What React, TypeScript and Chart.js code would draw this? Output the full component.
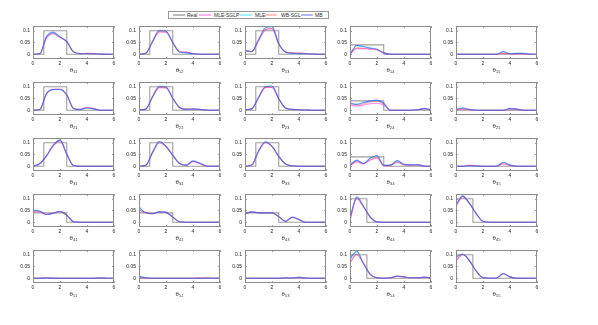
import React, { useEffect, useRef } from 'react';
import { Chart, registerables } from 'chart.js';
Chart.register(...registerables);

// grid of x positions where the estimated densities are read
const XS = [0, 0.5, 1, 1.5, 2, 2.5, 3, 3.5, 4, 4.5, 5, 5.5, 6];
const X_TICKS = [0, 2, 4, 6];
const Y_TICKS = [0, 0.05, 0.1];

const SERIES_NAMES = ['MLE-SGLP', 'MLE', 'WB-SGL', 'MB'];
const SERIES_COLORS = ['rgba(255,40,230,0.5)', 'rgba(0,215,255,0.5)', 'rgba(255,70,70,0.45)', 'rgba(50,70,255,0.55)'];
const REAL_COLOR = 'rgba(125,125,125,0.75)';

const PARAM_LABELS = [
  'θ₁₁', 'θ₁₂', 'θ₁₃', 'θ₁₄', 'θ₁₅',
  'θ₂₁', 'θ₂₂', 'θ₂₃', 'θ₂₄', 'θ₂₅',
  'θ₃₁', 'θ₃₂', 'θ₃₃', 'θ₃₄', 'θ₃₅',
  'θ₄₁', 'θ₄₂', 'θ₄₃', 'θ₄₄', 'θ₄₅',
  'θ₅₁', 'θ₅₂', 'θ₅₃', 'θ₅₄', 'θ₅₅',
];

// true densities (step functions)
const REAL_WIDE_X = [0, 0.8, 0.8, 2.5, 2.5, 6];
const REAL_WIDE_Y = [0, 0, 0.1, 0.1, 0, 0];
const REAL_LOW_X = [0, 2.5, 2.5, 6];
const REAL_LOW_Y = [0.04, 0.04, 0, 0];
const REAL_NARROW_X = [0, 1.25, 1.25, 6];
const REAL_NARROW_Y = [0.1, 0.1, 0, 0];
const REAL_ZERO_X = [0, 6];
const REAL_ZERO_Y = [0, 0];
const REAL_KIND = [
  'wide', 'wide', 'wide', 'low', 'zero',
  'wide', 'wide', 'wide', 'low', 'zero',
  'wide', 'wide', 'wide', 'low', 'zero',
  'low', 'low', 'low', 'narrow', 'narrow',
  'zero', 'zero', 'zero', 'narrow', 'narrow',
];

const MLE_SGLP = [
  [0, .002, .068, .087, .071, .053, .010, .003, .004, .003, .001, 0, 0],
  [0, .004, .052, .095, .094, .049, .011, .009, .003, 0, 0, 0, 0],
  [.014, .011, .058, .103, .108, .044, .010, .006, .005, .003, .001, 0, 0],
  [0, .024, .024, .022, .018, .005, 0, 0, 0, 0, 0, 0, 0],
  [0, 0, 0, 0, 0, 0, 0, .004, .001, .002, .002, 0, 0],
  [0, .003, .068, .089, .090, .064, .008, .004, .013, .007, 0, 0, 0],
  [.002, .005, .055, .096, .095, .050, .012, .005, .006, .004, .001, 0, 0],
  [.002, .006, .052, .096, .097, .048, .010, .004, .002, .001, 0, 0, 0],
  [.022, .018, .022, .028, .030, .022, 0, 0, 0, 0, .002, .006, .002],
  [.002, .005, .002, 0, 0, 0, 0, 0, .004, .003, 0, 0, 0],
  [0, .010, .042, .087, .108, .050, .003, 0, 0, 0, 0, 0, 0],
  [0, .004, .056, .100, .083, .046, .012, .005, .019, .011, .001, 0, 0],
  [0, .005, .062, .100, .084, .041, .010, .002, 0, 0, 0, 0, 0],
  [.004, .018, .010, .026, .034, .003, .004, .016, .006, .004, .005, .001, 0],
  [0, 0, .004, .002, 0, 0, 0, .010, .004, 0, 0, 0, 0],
  [.045, .044, .033, .039, .047, .030, .002, 0, 0, 0, 0, 0, 0],
  [.050, .041, .036, .045, .042, .022, .002, 0, 0, 0, 0, 0, 0],
  [.035, .044, .041, .040, .041, .024, .004, .020, .011, 0, 0, 0, 0],
  [.010, .100, .066, .023, .002, 0, 0, 0, 0, 0, 0, 0, 0],
  [.068, .108, .080, .038, .004, 0, 0, 0, 0, 0, 0, 0, 0],
  [0, 0, .002, .001, 0, 0, 0, 0, 0, 0, .002, 0, 0],
  [.003, .001, 0, 0, 0, 0, 0, 0, 0, .001, .002, 0, 0],
  [0, 0, 0, 0, 0, 0, .001, .001, .002, 0, 0, 0, 0],
  [.065, .100, .064, .018, .002, 0, .002, .008, .006, .002, .002, .004, .002],
  [.074, .100, .075, .031, .002, 0, .001, .018, .006, 0, 0, 0, 0],
];

const MLE = [
  [0, .002, .074, .092, .073, .054, .010, .003, .002, .002, .001, 0, 0],
  [0, .004, .054, .100, .097, .050, .010, .006, .002, 0, 0, 0, 0],
  [.015, .012, .060, .110, .116, .045, .010, .004, .003, .002, .001, 0, 0],
  [0, .036, .032, .026, .021, .006, 0, 0, 0, 0, 0, 0, 0],
  [0, 0, 0, 0, 0, 0, 0, .010, .002, .004, .004, 0, 0],
  [0, .003, .071, .087, .087, .065, .008, .003, .010, .006, 0, 0, 0],
  [.002, .005, .057, .100, .098, .051, .012, .004, .005, .004, .001, 0, 0],
  [.002, .006, .054, .099, .102, .050, .010, .004, .002, .001, 0, 0, 0],
  [.030, .025, .032, .039, .042, .029, 0, 0, 0, 0, .002, .007, .002],
  [.003, .009, .003, 0, 0, 0, 0, 0, .007, .005, 0, 0, 0],
  [0, .011, .044, .089, .111, .052, .003, 0, 0, 0, 0, 0, 0],
  [0, .004, .058, .104, .084, .047, .012, .005, .022, .013, .001, 0, 0],
  [0, .005, .064, .103, .085, .042, .010, .002, 0, 0, 0, 0, 0],
  [.005, .025, .012, .034, .045, .004, .005, .023, .008, .006, .007, .001, 0],
  [0, 0, .002, .001, 0, 0, 0, .015, .005, 0, 0, 0, 0],
  [.050, .047, .033, .038, .046, .030, .002, 0, 0, 0, 0, 0, 0],
  [.060, .040, .036, .044, .042, .022, .002, 0, 0, 0, 0, 0, 0],
  [.037, .043, .040, .040, .040, .024, .004, .021, .012, 0, 0, 0, 0],
  [.017, .106, .067, .022, .001, 0, 0, 0, 0, 0, 0, 0, 0],
  [.074, .111, .080, .036, .003, 0, 0, 0, 0, 0, 0, 0, 0],
  [0, 0, .001, 0, 0, 0, 0, 0, 0, 0, .001, 0, 0],
  [.007, .002, 0, 0, 0, 0, 0, 0, 0, 0, 0, 0, 0],
  [0, 0, 0, 0, 0, 0, .002, .001, .004, .001, 0, 0, 0],
  [.080, .113, .062, .016, .002, 0, .002, .010, .006, .002, .002, .005, .002],
  [.088, .102, .074, .030, .002, 0, .001, .019, .006, 0, 0, 0, 0],
];

const WB_SGL = [
  [0, .002, .070, .088, .072, .053, .010, .003, .004, .003, .001, 0, 0],
  [0, .004, .052, .096, .095, .049, .011, .009, .003, 0, 0, 0, 0],
  [.015, .011, .058, .104, .110, .044, .010, .006, .005, .003, .001, 0, 0],
  [0, .027, .025, .023, .019, .005, 0, 0, 0, 0, 0, 0, 0],
  [0, 0, 0, 0, 0, 0, 0, .005, .001, .003, .003, 0, 0],
  [0, .003, .069, .088, .089, .064, .008, .004, .012, .007, 0, 0, 0],
  [.002, .005, .055, .097, .096, .050, .012, .005, .006, .004, .001, 0, 0],
  [.002, .006, .052, .097, .098, .048, .010, .004, .002, .001, 0, 0, 0],
  [.027, .022, .027, .035, .038, .026, 0, 0, 0, 0, .002, .007, .002],
  [.002, .006, .002, 0, 0, 0, 0, 0, .005, .004, 0, 0, 0],
  [0, .010, .043, .088, .109, .051, .003, 0, 0, 0, 0, 0, 0],
  [0, .004, .057, .101, .084, .046, .012, .005, .020, .012, .001, 0, 0],
  [0, .005, .063, .101, .085, .041, .010, .002, 0, 0, 0, 0, 0],
  [.004, .021, .011, .029, .038, .004, .004, .019, .007, .005, .006, .001, 0],
  [0, 0, .004, .002, 0, 0, 0, .012, .004, 0, 0, 0, 0],
  [.046, .045, .033, .039, .046, .030, .002, 0, 0, 0, 0, 0, 0],
  [.052, .041, .036, .045, .042, .022, .002, 0, 0, 0, 0, 0, 0],
  [.036, .044, .041, .040, .041, .024, .004, .021, .011, 0, 0, 0, 0],
  [.012, .101, .066, .023, .002, 0, 0, 0, 0, 0, 0, 0, 0],
  [.070, .109, .080, .037, .004, 0, 0, 0, 0, 0, 0, 0, 0],
  [0, .001, .002, .001, 0, 0, 0, 0, 0, 0, .002, 0, 0],
  [.004, .001, 0, 0, 0, 0, 0, 0, 0, .001, .002, 0, 0],
  [0, 0, 0, 0, 0, 0, .002, .001, .003, .001, 0, 0, 0],
  [.068, .102, .064, .018, .002, 0, .002, .009, .006, .002, .002, .004, .002],
  [.076, .101, .075, .031, .002, 0, .001, .019, .006, 0, 0, 0, 0],
];

const MB = [
  [0, .002, .076, .094, .074, .055, .010, .003, .002, .002, .001, 0, 0],
  [0, .004, .055, .102, .099, .050, .010, .006, .002, 0, 0, 0, 0],
  [.016, .012, .062, .112, .118, .045, .010, .004, .003, .002, .001, 0, 0],
  [0, .038, .033, .027, .021, .006, 0, 0, 0, 0, 0, 0, 0],
  [0, 0, 0, 0, 0, 0, 0, .012, .002, .004, .004, 0, 0],
  [0, .003, .072, .088, .088, .066, .008, .003, .010, .006, 0, 0, 0],
  [.002, .005, .058, .102, .100, .052, .012, .004, .005, .004, .001, 0, 0],
  [.002, .006, .055, .100, .103, .050, .010, .004, .002, .001, 0, 0, 0],
  [.032, .025, .033, .040, .043, .030, 0, 0, 0, 0, .002, .008, .002],
  [.004, .010, .004, 0, 0, 0, 0, 0, .008, .006, 0, 0, 0],
  [0, .012, .045, .090, .112, .052, .003, 0, 0, 0, 0, 0, 0],
  [0, .004, .060, .106, .085, .047, .012, .005, .023, .014, .001, 0, 0],
  [0, .005, .065, .104, .085, .042, .010, .002, 0, 0, 0, 0, 0],
  [.005, .026, .012, .035, .046, .004, .005, .024, .008, .006, .007, .001, 0],
  [0, 0, .002, .001, 0, 0, 0, .017, .006, 0, 0, 0, 0],
  [.052, .048, .033, .038, .046, .030, .002, 0, 0, 0, 0, 0, 0],
  [.066, .040, .036, .044, .042, .022, .002, 0, 0, 0, 0, 0, 0],
  [.037, .044, .040, .040, .040, .024, .004, .022, .012, 0, 0, 0, 0],
  [.017, .108, .068, .022, .001, 0, 0, 0, 0, 0, 0, 0, 0],
  [.075, .112, .080, .036, .003, 0, 0, 0, 0, 0, 0, 0, 0],
  [0, 0, .001, 0, 0, 0, 0, 0, 0, 0, .001, 0, 0],
  [.008, .002, 0, 0, 0, 0, 0, 0, 0, 0, 0, 0, 0],
  [0, 0, 0, 0, 0, 0, .002, .001, .005, .001, 0, 0, 0],
  [.083, .115, .062, .016, .002, 0, .002, .010, .006, .002, .002, .005, .002],
  [.090, .103, .074, .030, .002, 0, .001, .020, .006, 0, 0, 0, 0],
];

const SERIES_VALUES = [MLE_SGLP, MLE, WB_SGL, MB];

// layout of the subplot grid (plot-area left edges and top edges, px)
const COL_LEFT = [33, 139, 245, 350, 456];
const ROW_TOP = [24, 80, 136, 192, 248];
const PLOT_W = 81;
const PLOT_H = 35;
const Y_AXIS_W = 22;
const X_AXIS_H = 15;
const PAD_TOP = 4;
const PAD_RIGHT = 6;

const FONT = 'Liberation Sans, Arial, Helvetica, sans-serif';
const TEXT_COLOR = '#2a2a2a';

function realData(kind: string) {
  const xs = kind === 'wide' ? REAL_WIDE_X : kind === 'low' ? REAL_LOW_X : kind === 'narrow' ? REAL_NARROW_X : REAL_ZERO_X;
  const ys = kind === 'wide' ? REAL_WIDE_Y : kind === 'low' ? REAL_LOW_Y : kind === 'narrow' ? REAL_NARROW_Y : REAL_ZERO_Y;
  return xs.map((x, i) => ({ x, y: ys[i] }));
}

const framePlugin = {
  id: 'matlabFrame',
  afterDatasetsDraw(chart: any) {
    const { ctx, chartArea: a, scales } = chart;
    ctx.save();
    ctx.strokeStyle = '#8c8c8c';
    ctx.lineWidth = 1;
    ctx.strokeRect(a.left + 0.5, a.top + 0.5, a.right - a.left - 1, a.bottom - a.top - 1);
    ctx.lineWidth = 0.8;
    ctx.beginPath();
    X_TICKS.forEach((v) => {
      const px = Math.round(scales.x.getPixelForValue(v)) + 0.5;
      ctx.moveTo(px, a.bottom);
      ctx.lineTo(px, a.bottom - 2);
      ctx.moveTo(px, a.top);
      ctx.lineTo(px, a.top + 2);
    });
    Y_TICKS.forEach((v) => {
      const py = Math.round(scales.y.getPixelForValue(v)) + 0.5;
      ctx.moveTo(a.left, py);
      ctx.lineTo(a.left + 2, py);
      ctx.moveTo(a.right, py);
      ctx.lineTo(a.right - 2, py);
    });
    ctx.stroke();
    ctx.restore();
  },
};

function SubPlot({ index }: { index: number }) {
  const ref = useRef<HTMLCanvasElement | null>(null);
  useEffect(() => {
    if (!ref.current) return;
    const estimated = SERIES_NAMES.map((name, s) => ({
      label: name,
      data: XS.map((x, i) => ({ x, y: SERIES_VALUES[s][index][i] })),
      borderColor: SERIES_COLORS[s],
      borderWidth: 1.1,
      pointRadius: 0,
      fill: false,
      cubicInterpolationMode: 'monotone' as const,
      order: 3 - s,
    }));
    const chart = new Chart(ref.current, {
      type: 'line',
      data: {
        datasets: [
          {
            label: 'Real',
            data: realData(REAL_KIND[index]),
            borderColor: REAL_COLOR,
            borderWidth: 1.1,
            pointRadius: 0,
            tension: 0,
            fill: false,
            order: 10,
          },
          ...estimated,
        ],
      },
      options: {
        responsive: false,
        animation: false,
        devicePixelRatio: 1,
        layout: { padding: { top: PAD_TOP, right: PAD_RIGHT, left: 0, bottom: 0 } },
        plugins: { legend: { display: false }, tooltip: { enabled: false }, title: { display: false } },
        scales: {
          x: {
            type: 'linear',
            min: 0,
            max: 6,
            afterBuildTicks: (s: any) => { s.ticks = X_TICKS.map((v) => ({ value: v })); },
            afterFit: (s: any) => { s.height = X_AXIS_H; },
            ticks: { font: { family: FONT, size: 5 }, color: TEXT_COLOR, padding: 2, maxRotation: 0, autoSkip: false },
            grid: { display: false, drawTicks: false, tickLength: 0 },
            border: { display: false },
            title: { display: true, text: PARAM_LABELS[index], font: { family: FONT, size: 6 }, color: TEXT_COLOR, padding: { top: 0, bottom: 0 } },
          },
          y: {
            type: 'linear',
            min: -0.02,
            max: 0.12,
            afterBuildTicks: (s: any) => { s.ticks = Y_TICKS.map((v) => ({ value: v })); },
            afterFit: (s: any) => { s.width = Y_AXIS_W; },
            ticks: { font: { family: FONT, size: 5 }, color: TEXT_COLOR, padding: 3, callback: (v: any) => String(v) },
            grid: { display: false, drawTicks: false, tickLength: 0 },
            border: { display: false },
          },
        },
      },
      plugins: [framePlugin],
    } as any);
    return () => chart.destroy();
  }, [index]);
  const col = index % 5;
  const row = Math.floor(index / 5);
  return (
    <canvas
      ref={ref}
      width={Y_AXIS_W + PLOT_W + PAD_RIGHT}
      height={PAD_TOP + PLOT_H + X_AXIS_H}
      style={{ position: 'absolute', left: COL_LEFT[col] - Y_AXIS_W, top: ROW_TOP[row] - PAD_TOP }}
    />
  );
}

const LEGEND_NAMES = ['Real', ...SERIES_NAMES];
const LEGEND_COLORS = [REAL_COLOR, ...SERIES_COLORS];
const LEGEND_LINE_LEFT = [4, 30, 71, 96, 132];
const LEGEND_TEXT_LEFT = [18, 45, 86, 112, 146];

function Legend() {
  return (
    <div
      style={{
        position: 'absolute', left: 168, top: 11, width: 159, height: 6,
        border: '1px solid #9a9a9a', background: '#fff', fontFamily: FONT, fontSize: 5, color: TEXT_COLOR,
      }}
    >
      {LEGEND_NAMES.map((n, i) => (
        <React.Fragment key={n}>
          <div style={{ position: 'absolute', left: LEGEND_LINE_LEFT[i], top: 2, width: 12, height: 2, background: LEGEND_COLORS[i], opacity: 0.7 }} />
          <div style={{ position: 'absolute', left: LEGEND_TEXT_LEFT[i], top: -0.5, lineHeight: '7px', whiteSpace: 'nowrap' }}>{n}</div>
        </React.Fragment>
      ))}
    </div>
  );
}

export default function App() {
  return (
    <div style={{ position: 'absolute', left: 0, top: 0, width: 598, height: 325, background: '#fff', overflow: 'hidden' }}>
      <Legend />
      {PARAM_LABELS.map((_, i) => (
        <SubPlot key={i} index={i} />
      ))}
    </div>
  );
}
